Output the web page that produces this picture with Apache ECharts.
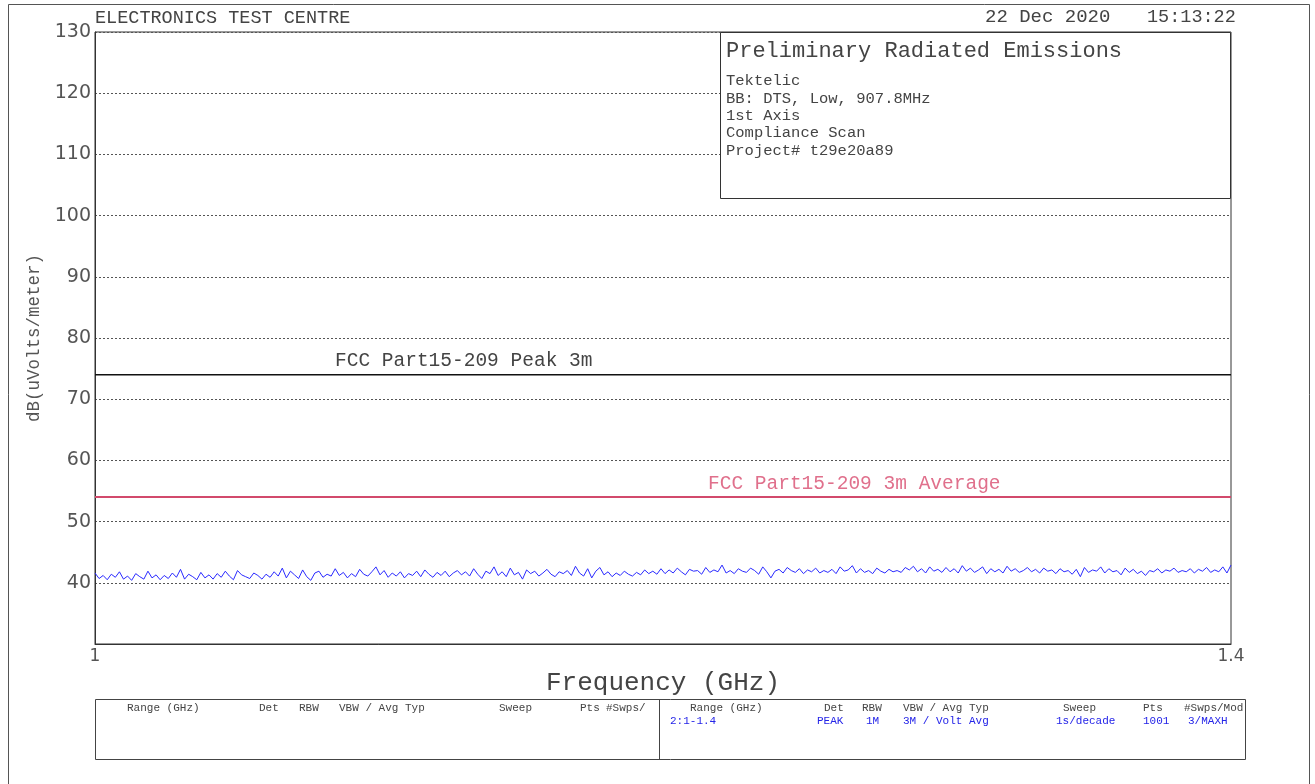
<!DOCTYPE html>
<html>
<head>
<meta charset="utf-8">
<script src="https://cdn.jsdelivr.net/npm/echarts@6/dist/echarts.min.js"></script>
<style>
  html, body { margin: 0; padding: 0; background: #fff; }
  #chart { width: 1315px; height: 784px; }
</style>
</head>
<body>
<div id="chart"></div>
<script>
// frequency span (GHz) and y scale (dB(uV/m))
var freqStart = 1;
var freqStop = 1.4;
var yTicks = [30, 40, 50, 60, 70, 80, 90, 100, 110, 120, 130];

// limit lines
var peakLimit = [74, 74];
var avgLimit = [54, 54];

var trace = [
  41.6, 40.7, 41.2, 40.5, 41.4, 40.9, 41.8, 40.6, 41.1, 40.4, 41.5, 41.0, 40.6, 41.9, 40.8, 41.3, 40.5, 41.2, 40.7, 41.6,
  40.9, 42.2, 40.6, 41.4, 41.0, 40.5, 41.7, 40.8, 41.3, 40.6, 41.5, 40.9, 41.9, 41.1, 40.5, 42.0, 41.3, 41.0, 40.7, 41.6,
  41.2, 40.6, 41.4, 40.9, 41.8, 41.1, 42.4, 40.8, 41.9, 41.3, 40.7, 42.1, 41.0, 40.4, 41.6, 41.9, 40.9, 41.4, 41.1, 42.3,
  41.2, 41.7, 40.8, 41.5, 41.0, 42.2, 41.4, 41.1, 41.8, 42.6,
  41.3, 42.0, 40.9, 41.6, 41.1, 41.8, 40.8, 41.5, 41.2, 41.9, 41.0, 42.1, 41.4, 40.9, 41.7, 41.2, 41.9, 41.0, 41.6, 42.0,
  41.3, 41.8, 41.1, 42.3, 41.4, 40.7, 41.9, 41.5, 42.6, 41.2, 41.8, 41.0, 42.4, 41.3, 41.7, 40.6, 42.1, 41.5, 41.9, 41.1,
  41.6, 42.2, 41.4, 41.0, 41.8, 41.5, 42.0, 41.2, 42.7, 41.6, 41.1, 42.3, 40.8, 41.9, 42.5, 41.3, 41.8, 41.0, 41.6, 41.2,
  41.9, 41.4, 41.1, 41.7, 41.3, 42.1, 41.5, 41.9, 41.4, 42.3,
  41.5, 42.1, 41.6, 42.4, 41.8, 41.3, 42.2, 41.9, 42.0, 41.4, 42.5, 41.7, 42.1, 41.8, 42.9, 41.6, 42.0, 41.5, 42.3, 41.9,
  41.7, 42.4, 42.0, 41.4, 42.6, 41.8, 40.8, 41.9, 42.2, 41.6, 42.5, 42.0, 41.7, 42.3, 41.5, 42.1, 41.8, 42.4, 41.6, 42.0,
  41.7, 42.2, 41.5, 42.6, 41.9, 42.1, 42.8, 41.6, 42.3, 41.7, 42.0, 41.5, 42.4, 41.9, 41.6, 42.2, 41.8, 42.0, 41.7, 42.5,
  42.1, 42.7, 41.8, 42.3, 41.6, 42.6, 41.9, 42.2, 41.7, 42.5,
  41.8, 42.3, 41.6, 42.8, 41.9, 42.4, 41.7, 42.1, 42.6, 41.5, 42.3, 41.8, 42.2, 41.6, 42.7, 41.9, 42.3, 41.7, 42.0, 42.5,
  41.8, 42.2, 41.6, 42.4, 41.9, 42.1, 41.5, 42.3, 41.8, 42.0, 41.4, 42.2, 41.0, 42.5, 41.7, 42.1, 41.9, 42.6, 41.6, 42.3,
  41.8, 42.0, 41.3, 42.4, 41.7, 42.2, 41.5, 41.9, 41.2, 42.0, 41.8, 42.3, 41.6, 42.1, 41.9, 42.4, 41.7, 42.0, 41.8, 42.3,
  41.6, 42.2, 41.9, 42.5, 41.7, 42.1, 41.8, 42.6, 41.6, 42.9
];

// header / info block text
var infoTitle = 'Preliminary Radiated Emissions';
var infoLines = ['Tektelic', 'BB: DTS, Low, 907.8MHz', '1st Axis', 'Compliance Scan', 'Project# t29e20a89'];

// settings table
var tblHead = ['Range (GHz)', 'Det', 'RBW', 'VBW / Avg Typ', 'Sweep', 'Pts', '#Swps/Mod'];
var tblRow = ['2:1-1.4', 'PEAK', '1M', '3M / Volt Avg', '1s/decade', '1001', '3/MAXH'];

var traceData = trace.map(function (v, i) {
  return [freqStart + i * (freqStop - freqStart) / (trace.length - 1), v];
});

var FONT = 'DejaVu Sans';
var MONO = 'Liberation Mono';
var INK = '#444';

function txt(x, y, s, size, color, extra) {
  var style = { x: x, y: y, text: s, fill: color || INK, fontSize: size, fontFamily: MONO, textVerticalAlign: 'middle' };
  if (extra) for (var k in extra) style[k] = extra[k];
  return { type: 'text', z: 20, style: style };
}

var graphics = [
  // page border
  { type: 'rect', z: 0, shape: { x: 8.5, y: 4.5, width: 1301, height: 790 }, style: { fill: 'none', stroke: '#555', lineWidth: 1 } },
  txt(95, 18, 'ELECTRONICS TEST CENTRE', 18.5),
  txt(985, 17, '22 Dec 2020', 19),
  txt(1147, 17, '15:13:22', 18.5),
  // info box
  { type: 'rect', z: 15, shape: { x: 720.5, y: 32.5, width: 510, height: 166 }, style: { fill: '#fff', stroke: '#333', lineWidth: 1 } },
  txt(726, 51, infoTitle, 22),
  // limit labels
  txt(335, 361, 'FCC Part15-209 Peak 3m', 19.5),
  txt(708, 484, 'FCC Part15-209 3m Average', 19.5, '#e0708c'),
  // table
  { type: 'rect', z: 10, shape: { x: 95.5, y: 699.5, width: 1150, height: 60 }, style: { fill: 'none', stroke: '#444', lineWidth: 1 } },
  { type: 'line', z: 10, shape: { x1: 659.5, y1: 700, x2: 659.5, y2: 760 }, style: { stroke: '#444', lineWidth: 1 } }
];
infoLines.forEach(function (s, i) {
  graphics.push(txt(726, 81 + i * 17.4, s, 15.5));
});
var colL = [127, 259, 299, 339, 499, 580, 606];
var colR = [690, 824, 862, 903, 1063, 1143, 1184];
tblHead.forEach(function (s, i) {
  graphics.push(txt(colL[i], 708, i === 6 ? '#Swps/' : s, 11));
  graphics.push(txt(colR[i], 708, s, 11));
});
var rowX = [670, 817, 866, 903, 1056, 1143, 1188];
tblRow.forEach(function (s, i) { graphics.push(txt(rowX[i], 721, s, 11, '#2424e8')); });

var chart = echarts.init(document.getElementById('chart'));
chart.setOption({
  animation: false,
  backgroundColor: '#fff',
  grid: { left: 95, top: 32, width: 1136, height: 612, show: true, borderColor: '#333', borderWidth: 1 },
  xAxis: {
    type: 'value', min: freqStart, max: freqStop, interval: freqStop - freqStart,
    name: 'Frequency (GHz)', nameLocation: 'middle', nameGap: 24,
    nameTextStyle: { fontFamily: MONO, fontSize: 26, color: INK },
    axisLine: { show: true, lineStyle: { color: '#333' } },
    axisTick: { show: false },
    splitLine: { show: false },
    axisLabel: { fontFamily: FONT, fontSize: 17, color: '#555', margin: 4, showMinLabel: true, showMaxLabel: true,
      formatter: function (v) { return String(Math.round(v * 10) / 10); } }
  },
  yAxis: {
    type: 'value', min: yTicks[0], max: yTicks[yTicks.length - 1], interval: 10,
    name: 'dB(uVolts/meter)', nameLocation: 'middle', nameGap: 50, nameRotate: 90,
    nameTextStyle: { fontFamily: MONO, fontSize: 17.5, color: '#555' },
    axisLine: { show: true, lineStyle: { color: '#333' } },
    axisTick: { show: false },
    axisLabel: { fontFamily: FONT, fontSize: 19, color: '#555', margin: 4,
      formatter: function (v) { return v === yTicks[0] ? '' : String(v); } },
    splitLine: { show: true, lineStyle: { color: '#555', type: [2, 2], width: 1 } }
  },
  series: [
    {
      type: 'line', data: traceData, symbol: 'none', z: 5,
      lineStyle: { color: '#2a2aff', width: 1 }
    },
    {
      type: 'line', data: [[freqStart, peakLimit[0]], [freqStop, peakLimit[1]]], symbol: 'none', z: 6,
      lineStyle: { color: '#111', width: 1.5 }
    },
    {
      type: 'line', data: [[freqStart, avgLimit[0]], [freqStop, avgLimit[1]]], symbol: 'none', z: 6,
      lineStyle: { color: '#d24a6c', width: 2 }
    }
  ],
  graphic: graphics
});
</script>
</body>
</html>
